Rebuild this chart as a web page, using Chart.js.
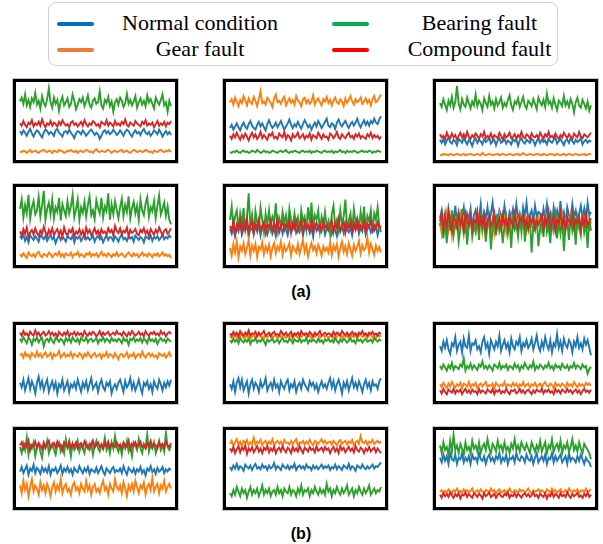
<!DOCTYPE html>
<html>
<head>
<meta charset="utf-8">
<script src="https://cdn.jsdelivr.net/npm/chart.js@4.4.1/dist/chart.umd.min.js"></script>
<style>
    html, body { margin: 0; padding: 0; background: #fff; }
    #page { position: relative; width: 603px; height: 544px; overflow: hidden; }
    .legend { position: absolute; left: 48px; top: 2px; width: 510px; height: 64px; border: 1px solid #d0d0d0; border-radius: 8px; box-sizing: border-box; font-family: "Liberation Serif", "DejaVu Serif", "Times New Roman", serif; font-size: 22px; color: #000; }
    .handle { position: absolute; height: 4px; border-radius: 2px; }
    .lbl { position: absolute; text-align: center; white-space: nowrap; }
    .panel { position: absolute; border: 3px solid #000; box-sizing: border-box; box-shadow: 0 0 0 1px #c8c8c8; background: #fff; }
    .panel canvas { display: block; }
    .cap { position: absolute; width: 60px; text-align: center; font-family: "Liberation Sans", Arial, sans-serif; font-weight: bold; font-size: 16px; color: #000; }
</style>
</head>
<body>
<div id="page"></div>
<script>
// series names (legend order) and colours
const seriesNames = ['Normal condition', 'Gear fault', 'Bearing fault', 'Compound fault'];
const legendColors = ['#0070C0', '#ED7D31', '#00B050', '#FF0000'];
const lineColors = ['#1f77b4', '#ff7f0e', '#2ca02c', '#d62728'];
const captions = ['(a)', '(b)'];

// ---- (a) row 1 ----
const a1Normal = [37,33,38,35,31,36,40,34,30,35, 38,36,32,29,35,39,37,33,36,34, 31,38,40,35,33,30,36,37,34,39, 35,32,28,34,37,36,33,38,35,31, 34,37,39,36,32,35,33,27,31,36, 38,34,37,33,35,39,36,32,34,38, 35,31,36,39,37,33,30,35,38,34, 36,32,37,40,35,33,36,31,34,38, 36,33,39,35,30,34,37,33,36,32];
const a1Gear = [11,10,12,11,9,11,13,10,11,12, 10,9,11,12,13,11,10,12,11,9, 12,11,10,13,12,11,9,10,12,11, 13,11,10,12,9,11,12,10,11,13, 12,10,11,9,12,14,11,10,12,11, 10,12,13,11,9,11,12,10,11,12, 13,10,11,12,10,9,11,13,12,10, 11,12,10,11,13,12,10,11,9,12, 11,10,12,13,11,10,12,11,13,10];
const a1Bearing = [75,80,72,84,70,77,68,79,74,86, 71,76,66,82,73,69,78,92,74,67, 80,72,77,63,75,81,70,74,79,68, 72,84,76,65,71,78,74,80,69,75, 83,71,67,76,79,72,74,88,70,66, 77,73,81,69,75,62,74,78,71,80, 76,68,73,85,72,77,70,75,82,67, 74,79,71,76,69,83,74,78,72,66, 80,75,71,77,84,70,74,62,76,69];
const a1Compound = [47,44,50,45,42,48,46,51,43,47, 45,49,44,52,46,42,47,45,50,44, 48,46,43,49,45,51,47,44,46,42, 48,50,45,47,43,46,49,44,51,46, 43,47,45,50,48,44,46,42,49,47, 45,51,44,48,46,43,50,45,47,44, 49,46,52,45,43,48,46,44,50,47, 45,43,49,46,51,44,47,45,48,42, 46,50,44,47,45,49,43,48,46,50];

const a2Normal = [41,45,39,43,47,42,38,44,48,43, 40,46,50,44,41,39,45,49,43,47, 42,38,46,51,45,41,44,48,42,46, 50,44,39,43,47,52,45,41,46,43, 49,44,40,46,51,47,42,45,39,44, 48,43,50,46,41,45,49,53,44,42, 47,45,40,48,52,46,43,47,50,45, 41,46,49,44,48,53,46,42,47,51, 45,49,44,50,47,53,48,46,52,56];
const a2Gear = [74,78,71,80,75,69,77,73,82,76, 70,79,74,72,81,76,69,78,88,73, 75,71,80,77,73,68,79,84,74,76, 72,78,81,70,75,79,73,77,71,82, 76,74,69,78,80,73,77,72,75,83, 71,76,79,74,70,78,75,81,73,77, 70,76,80,74,72,78,75,69,79,73, 77,82,75,71,78,74,76,80,72,75, 79,73,77,70,78,82,74,76,80,84];
const a2Bearing = [10,9,11,10,12,10,9,11,12,10, 11,9,10,12,11,10,13,11,9,10, 12,10,11,9,10,12,11,10,9,11, 12,10,11,13,10,9,11,10,12,11, 10,9,11,12,10,11,10,12,9,11, 10,12,11,10,9,11,12,10,11,10, 12,9,11,10,11,13,10,11,9,12, 10,11,10,12,11,9,10,11,12,10, 11,10,12,11,9,11,10,12,11,10];
const a2Compound = [31,27,33,29,35,30,26,32,28,34, 30,25,31,35,29,33,27,30,36,28, 32,29,26,33,31,35,28,30,27,34, 31,29,36,27,32,30,25,33,29,31, 35,28,30,33,27,31,29,34,26,32, 30,28,35,31,27,33,29,30,26,34, 32,28,31,36,29,27,33,30,28,32, 35,29,31,27,33,30,34,28,31,29, 27,33,30,35,28,32,29,31,27,30];

const a3Normal = [26,22,27,20,25,29,23,21,26,24, 19,27,25,22,28,24,20,26,23,18, 25,28,22,26,24,20,27,23,25,29, 21,24,26,19,25,28,22,24,27,21, 25,23,20,27,24,26,18,25,28,23, 21,26,24,22,27,25,19,24,28,22, 26,23,25,20,27,24,22,26,29,21, 24,27,23,19,25,26,22,28,24,21, 26,23,25,28,20,24,26,22,25,23];
const a3Gear = [7,6,8,7,7,6,8,7,6,7, 8,7,6,7,8,6,7,7,8,7, 6,7,8,7,6,9,7,6,7,8, 7,6,7,7,8,6,7,8,7,6, 7,8,7,6,7,7,8,6,7,9, 7,6,7,8,7,6,7,8,7,7, 6,8,7,6,7,8,7,7,6,8, 7,6,7,8,6,7,8,7,6,7, 8,7,6,7,7,8,6,7,8,7];
const a3Bearing = [73,68,78,71,64,76,70,81,67,74, 95,72,65,78,71,68,80,73,66,75, 70,84,69,76,72,64,79,73,68,82, 71,75,66,78,70,74,80,67,73,69, 77,83,70,64,75,72,79,68,74,81, 70,66,76,73,69,78,72,65,80,74, 70,77,68,85,72,75,67,79,71,64, 76,73,69,82,70,75,68,78,72,61, 74,80,70,67,77,72,66,75,63,70];
const a3Compound = [33,29,31,27,35,30,28,34,29,32, 26,31,35,29,33,28,36,30,27,32, 29,34,31,27,33,30,36,28,31,29, 34,27,32,30,28,35,31,26,33,29, 31,35,28,30,33,27,32,29,36,30, 28,33,31,27,34,30,29,32,28,35, 31,27,33,30,36,29,31,28,34,30, 27,32,29,35,31,28,33,30,27,34, 31,29,36,30,28,33,31,29,32,35];

// ---- (a) row 2 ----
const a4Normal = [37,34,39,31,36,29,38,35,32,37, 34,30,38,36,33,37,31,35,39,33, 36,28,34,38,32,36,34,30,37,35, 33,38,29,36,34,37,31,35,39,33, 36,32,34,38,30,35,37,33,36,29, 34,38,32,36,35,31,37,34,30,36, 39,33,35,31,37,34,36,30,38,35, 32,36,34,29,37,35,33,38,31,36, 34,37,32,35,39,33,36,34,38,35];
const a4Gear = [14,11,15,12,9,16,13,11,14,10, 15,17,12,10,14,13,11,16,14,10, 13,15,12,17,11,14,10,15,13,12, 16,10,14,13,17,11,14,12,10,15, 13,16,11,14,12,15,10,13,17,12, 14,11,15,13,10,14,12,16,11,13, 15,12,10,14,16,13,11,15,12,14, 10,13,16,12,14,11,15,13,10,14, 12,15,11,13,16,12,14,11,13,9];
const a4Bearing = [72,84,61,77,66,90,59,74,82,65, 70,87,62,76,95,58,72,80,65,84, 60,74,68,86,57,78,70,63,82,66, 75,90,61,71,84,58,74,67,81,62, 77,88,64,70,59,83,73,66,86,61, 75,69,92,58,78,65,82,71,60,74, 85,63,77,68,88,60,73,81,66,76, 58,84,70,64,79,87,62,74,69,82, 60,76,89,65,72,80,63,75,58,52];
const a4Compound = [43,38,46,40,48,36,42,45,39,47, 41,37,44,40,49,42,37,45,40,47, 38,43,46,39,44,36,48,41,38,45, 42,47,37,43,40,46,39,44,36,48, 41,45,38,42,47,40,44,37,46,41, 43,39,47,42,45,38,50,44,41,47, 39,44,42,48,37,45,41,43,46,40, 38,45,42,47,40,44,37,46,42,39, 45,41,48,43,38,44,46,40,43,47];

const a5Normal = [46,40,51,37,48,43,54,39,47,44, 52,36,49,45,41,51,43,55,38,48, 44,50,39,46,53,41,47,37,52,44, 49,40,51,45,38,50,43,47,54,41, 46,42,52,38,48,45,50,41,47,36, 52,44,49,42,46,51,39,47,44,53, 40,48,45,37,51,43,49,41,54,46, 42,48,38,50,45,52,40,47,43,55, 39,46,50,42,48,44,51,38,47,49];
const a5Gear = [22,12,27,16,30,10,24,18,28,14, 22,32,12,25,18,27,10,23,20,29, 14,24,17,26,11,22,28,15,24,19, 30,13,25,18,22,28,12,24,20,16, 27,14,23,32,17,25,11,21,28,19, 24,15,26,20,12,24,18,22,16,29, 13,25,19,27,11,22,30,17,24,14, 28,20,12,26,18,23,31,15,25,19, 22,35,16,27,20,13,25,18,23,16];
const a5Bearing = [58,75,48,63,70,44,66,52,73,46, 60,92,50,64,40,69,55,47,74,58, 42,66,52,70,48,62,56,79,45,60, 50,68,54,64,44,72,58,48,66,52, 61,42,70,56,62,46,74,54,80,50, 64,58,70,44,62,52,68,48,56,40, 65,76,50,58,45,70,53,62,84,49, 57,66,43,72,55,60,47,68,52,75, 46,63,56,70,41,66,58,74,50,42];
const a5Compound = [50,44,56,40,52,47,58,42,54,46, 60,43,51,56,40,53,47,58,44,50, 55,41,52,48,57,43,54,46,59,42, 50,55,45,52,48,58,41,53,47,56, 44,51,57,42,55,48,52,45,58,43, 50,54,46,52,44,56,48,51,45,50, 57,42,53,47,59,44,50,55,41,52, 48,56,43,54,46,58,45,51,47,56, 42,53,49,57,44,51,46,55,48,50];

const a6Normal = [60,70,52,66,48,72,58,64,50,76, 56,68,54,62,74,50,66,58,72,46, 64,70,56,60,78,52,68,60,74,54, 66,80,58,62,50,70,64,56,76,60, 52,68,62,72,56,78,60,66,54,74, 62,80,58,64,70,56,76,62,68,66, 54,72,60,78,58,66,50,74,62,70, 56,82,60,68,52,74,64,58,78,62, 70,54,66,76,60,72,56,80,64,68];
const a6Gear = [54,40,60,48,66,44,56,38,62,50, 58,42,64,52,46,60,40,56,62,48, 54,44,66,50,58,42,60,52,48,62, 44,58,40,56,50,64,46,54,60,42, 56,48,62,50,46,58,42,64,52,48, 60,44,56,62,50,46,58,52,60,48, 42,56,64,46,52,38,60,50,66,44, 54,48,62,40,58,52,46,64,50,56, 42,60,48,54,62,44,58,50,46,56];
const a6Bearing = [50,62,34,56,28,66,44,70,38,52, 60,30,46,72,40,58,26,54,64,36, 50,42,60,32,68,46,56,30,52,62, 20,48,58,38,66,44,54,28,50,62, 40,56,22,64,46,52,36,60,42,68, 30,54,48,58,16,50,44,62,24,46, 58,36,66,42,52,28,60,46,70,34, 54,40,62,18,50,58,32,64,44,56, 26,60,48,38,66,42,54,22,58,44];
const a6Compound = [56,66,46,60,50,68,54,44,62,58, 48,64,52,60,42,66,56,50,62,46, 58,54,68,48,60,52,64,44,58,62, 50,56,66,46,54,60,48,64,52,58, 46,62,56,50,66,54,48,60,56,64, 50,58,46,62,54,60,48,56,52,58, 64,46,60,52,68,48,56,62,44,58, 54,66,50,60,46,62,56,52,64,48, 58,54,62,46,60,52,66,50,56,60];

// ---- (b) row 1 ----
const b1Normal = [24,18,28,14,22,30,16,26,20,10, 24,32,18,26,14,22,28,12,20,26, 16,24,10,22,18,28,14,20,26,12, 22,18,24,16,28,20,12,24,18,26, 14,22,30,16,20,24,12,22,28,18, 14,24,20,26,10,18,22,16,24,28, 20,12,26,18,22,30,16,24,14,20, 28,18,10,24,20,26,16,22,12,26, 20,16,28,22,14,24,18,26,20,28];
const b1Gear = [60,62,57,64,59,61,56,63,60,58, 65,59,62,57,61,64,58,60,63,56, 62,59,61,66,57,60,63,58,61,59, 64,57,62,60,58,63,61,56,62,59, 64,60,57,61,63,58,60,62,56,61, 59,64,58,62,60,57,63,59,55,61, 62,58,60,64,57,61,59,63,56,60, 62,58,65,60,57,61,63,59,62,58, 60,56,63,61,59,62,57,60,64,58];
const b1Bearing = [82,78,84,80,76,83,81,74,82,79, 84,77,81,83,72,80,82,78,84,79, 76,83,81,78,82,80,75,83,79,82, 77,84,80,78,82,76,83,80,79,84, 77,81,82,78,80,83,76,81,79,84, 78,82,80,77,83,79,81,78,82,80, 76,83,79,81,74,82,80,84,78,81, 79,83,77,82,80,76,84,79,81,78, 82,75,80,83,79,81,77,82,80,78];
const b1Compound = [90,86,92,87,89,85,91,88,86,93, 87,90,85,89,91,86,88,92,87,90, 86,89,84,91,88,86,90,87,92,85, 89,88,91,86,90,87,89,85,92,88, 86,90,87,91,89,85,88,92,86,90, 87,89,91,86,88,90,87,92,88,89, 86,91,88,85,90,87,92,89,86,88, 91,87,89,85,92,88,86,90,88,91, 87,89,86,92,88,90,85,89,91,88];

const b2Normal = [22,16,26,12,24,30,18,28,14,20, 26,10,22,28,16,24,20,12,26,18, 22,30,14,20,24,16,28,18,22,12, 26,20,16,24,28,14,22,18,26,12, 20,24,16,28,22,18,14,26,20,24, 16,22,12,20,26,18,22,16,24,30, 18,26,14,22,28,20,10,24,18,26, 14,22,30,18,24,16,26,20,12,22, 28,18,24,14,26,20,22,16,26,30];
const b2Gear = [86,83,88,84,87,82,85,89,83,86, 84,88,82,85,87,83,86,89,84,85, 82,87,84,86,88,83,85,87,82,86, 84,88,85,83,87,84,86,82,88,85, 83,86,84,87,89,83,85,86,82,87, 84,86,88,83,85,87,84,86,83,85, 88,82,86,84,89,85,83,87,84,86, 82,88,85,84,87,83,86,89,84,85, 87,83,86,88,84,85,82,87,85,86];
const b2Bearing = [80,77,82,78,81,76,83,79,77,81, 78,82,75,80,79,83,77,80,78,82, 79,74,81,78,80,82,77,79,81,76, 80,83,78,79,77,82,80,76,81,79, 78,82,77,80,79,83,76,80,78,81, 79,77,82,78,80,76,81,79,82,78, 80,77,83,79,76,81,78,82,80,77, 79,83,78,80,76,82,79,81,77,80, 82,78,79,81,77,83,80,78,81,79];
const b2Compound = [89,86,91,87,90,85,92,88,86,90, 87,93,86,89,88,91,85,90,87,89, 92,86,88,90,85,89,91,87,88,86, 92,89,87,90,86,88,91,85,89,87, 90,86,92,88,87,89,86,91,88,85, 90,87,89,92,86,88,90,87,89,88, 85,91,87,90,88,86,92,89,87,90, 86,88,91,87,89,85,90,88,92,87, 89,86,90,88,91,87,89,86,90,88];

const b3Normal = [72,66,78,70,80,68,62,76,72,84, 66,74,78,64,82,72,70,86,66,76, 74,80,68,72,64,78,84,70,76,62, 80,74,68,78,72,86,66,74,80,70, 76,64,82,72,68,78,74,84,66,76, 72,80,70,74,82,68,76,86,72,66, 78,70,84,74,68,80,64,76,72,88, 70,78,66,82,74,70,80,76,64,78, 72,84,70,76,68,82,74,80,70,60];
const b3Gear = [22,18,24,20,17,23,19,25,21,18, 22,20,24,17,23,21,19,25,18,22, 20,24,17,21,23,19,22,25,18,21, 20,23,17,24,21,19,22,20,25,18, 22,21,19,24,20,23,18,22,20,25, 19,21,23,18,22,20,24,19,21,23, 18,22,25,20,19,23,21,17,24,20, 22,19,23,21,18,24,20,22,19,25, 21,18,23,20,22,19,24,21,23,20];
const b3Bearing = [46,42,48,44,40,47,43,50,41,46, 44,42,48,45,56,40,46,43,49,42, 47,44,41,48,45,52,43,46,42,47, 44,40,48,46,43,50,42,46,44,48, 41,46,45,42,49,44,47,40,46,43, 50,45,42,47,44,52,41,46,43,48, 45,42,47,44,50,43,46,41,48,44, 46,42,49,45,43,47,41,46,44,50, 43,47,45,42,48,44,46,36,42,45];
const b3Compound = [14,10,16,12,9,15,13,11,16,10, 14,12,15,9,13,16,11,14,10,15, 12,13,9,16,11,14,12,10,15,13, 11,16,9,14,12,15,10,13,11,16, 12,9,14,13,15,10,12,16,11,14, 10,13,15,12,9,14,11,15,13,12, 16,10,14,12,15,11,13,9,16,12, 14,10,15,13,11,16,12,14,10,13, 15,11,14,9,13,16,12,14,11,15];

// ---- (b) row 2 ----
const b4Normal = [46,52,44,49,54,42,50,47,55,44, 51,48,43,52,46,50,45,53,42,49, 47,51,44,48,54,43,50,46,52,45, 49,42,51,47,45,53,48,44,50,46, 52,43,49,47,45,51,44,48,53,46, 42,50,47,44,49,52,45,48,46,50, 44,53,47,42,51,48,45,50,43,49, 46,52,44,48,41,50,47,53,45,49, 43,51,46,48,52,44,49,46,50,48];
const b4Gear = [28,18,34,22,30,14,26,36,20,28, 24,16,32,22,28,18,30,24,14,26, 32,20,28,22,36,18,26,30,20,24, 16,28,32,22,26,18,30,24,20,34, 22,28,16,26,30,20,24,18,28,34, 22,26,16,30,24,20,36,26,22,28, 18,32,24,14,28,22,30,20,34,26, 18,28,24,32,16,26,30,22,38,20, 26,30,18,28,24,34,20,26,30,24];
const b4Bearing = [78,70,82,74,90,68,80,76,84,66, 78,82,72,64,80,76,86,70,78,82, 74,68,80,84,72,78,70,88,76,80, 66,82,74,78,86,72,80,76,70,84, 78,74,82,68,80,86,76,72,82,78, 90,74,80,70,84,76,92,78,72,80, 68,82,76,86,72,78,66,84,80,74, 88,76,70,82,78,94,72,80,76,84, 70,78,86,74,80,72,96,78,74,80];
const b4Compound = [80,84,76,82,78,86,74,81,79,85, 77,83,80,75,84,78,82,86,76,80, 83,77,85,79,81,74,84,80,78,86, 77,82,79,84,76,81,83,78,85,80, 76,82,79,86,77,81,84,78,80,75, 83,79,85,77,82,80,78,84,79,81, 76,84,80,78,86,75,82,79,84,77, 81,85,78,80,76,83,79,86,78,82, 80,76,84,79,82,77,85,80,78,83];

const b5Normal = [52,48,54,50,56,49,53,51,47,55, 52,50,54,48,53,56,50,52,49,55, 51,53,48,54,50,52,57,49,53,51, 48,55,52,50,54,49,53,51,56,48, 52,54,50,53,49,55,51,52,48,54, 50,53,49,52,55,50,53,51,54,48, 52,50,55,49,53,51,48,54,52,50, 56,49,53,51,47,54,52,50,55,51, 49,53,50,52,55,50,53,52,55,58];
const b5Gear = [82,86,80,84,88,81,85,79,86,83, 87,80,84,82,90,81,85,83,87,80, 84,86,81,85,82,88,80,84,86,82, 85,80,87,83,84,81,86,82,85,88, 80,84,83,86,81,85,82,87,83,80, 86,84,82,85,88,83,86,82,84,85, 81,86,83,80,85,87,82,84,86,81, 85,83,87,80,84,86,82,92,84,83, 86,81,85,83,87,82,84,86,83,85];
const b5Bearing = [18,14,22,16,26,20,14,24,18,22, 12,20,26,16,22,18,24,14,20,28, 16,22,18,24,14,20,22,16,26,18, 22,14,24,20,18,26,16,22,20,14, 24,18,28,16,22,20,24,14,22,18, 26,20,16,24,18,22,16,30,20,24, 14,22,18,26,20,16,24,18,22,28, 16,20,24,14,22,18,26,20,16,24, 18,22,28,16,20,24,18,22,20,26];
const b5Compound = [76,72,78,70,75,79,71,77,74,80, 69,76,73,78,71,75,79,72,76,70, 77,74,79,71,76,73,78,70,75,77, 72,79,74,71,77,75,70,78,73,76, 72,79,74,70,77,75,72,78,74,76, 71,79,73,75,77,72,78,74,76,70, 75,78,72,76,70,79,74,77,71,75, 78,73,76,71,79,74,72,77,75,70, 76,73,78,72,75,77,71,76,73,70];

const b6Normal = [64,58,68,60,66,56,70,62,60,68, 56,64,62,70,58,64,60,66,56,68, 62,64,58,70,62,60,66,56,64,68, 60,64,58,66,62,70,58,64,60,68, 56,64,62,66,58,70,62,60,66,64, 58,68,62,60,66,56,64,70,58,62, 66,60,68,56,64,62,70,58,66,60, 64,68,58,62,66,56,70,60,64,62, 58,66,60,68,62,56,64,60,58,52];
const b6Gear = [20,22,18,21,19,23,20,17,22,20, 24,19,21,18,23,20,22,19,21,24, 18,20,22,19,23,20,18,22,21,19, 24,20,22,18,21,23,19,20,22,18, 21,24,20,19,22,21,18,23,20,22, 19,21,24,20,18,22,20,21,23,19, 22,20,18,23,21,19,24,20,22,18, 21,23,19,20,22,18,24,21,19,22, 20,23,18,21,22,19,24,20,21,23];
const b6Bearing = [80,70,84,74,78,68,86,72,94,74, 80,70,82,76,68,84,74,78,70,86, 76,80,72,84,70,78,82,74,88,76, 70,82,78,72,86,76,80,72,84,74, 78,70,82,76,88,74,80,72,84,78, 74,82,76,70,84,78,72,80,74,86, 72,78,84,70,80,76,88,72,78,82, 74,86,70,80,76,84,72,78,88,74, 80,72,84,76,70,82,78,74,70,62];
const b6Compound = [16,12,18,14,17,13,19,15,12,17, 14,18,11,16,15,19,13,17,14,12, 18,16,13,17,15,11,18,14,16,19, 13,15,17,12,16,18,14,13,17,15, 19,12,16,14,18,13,17,15,12,16, 18,14,17,13,15,19,14,16,12,17, 15,13,18,11,16,14,19,13,17,15, 12,18,14,16,13,19,15,12,17,14, 16,18,13,15,12,17,14,19,13,16];

// each panel: [normal, gear, bearing, compound]
const panels = [
    [a1Normal, a1Gear, a1Bearing, a1Compound],
    [a2Normal, a2Gear, a2Bearing, a2Compound],
    [a3Normal, a3Gear, a3Bearing, a3Compound],
    [a4Normal, a4Gear, a4Bearing, a4Compound],
    [a5Normal, a5Gear, a5Bearing, a5Compound],
    [a6Normal, a6Gear, a6Bearing, a6Compound],
    [b1Normal, b1Gear, b1Bearing, b1Compound],
    [b2Normal, b2Gear, b2Bearing, b2Compound],
    [b3Normal, b3Gear, b3Bearing, b3Compound],
    [b4Normal, b4Gear, b4Bearing, b4Compound],
    [b5Normal, b5Gear, b5Bearing, b5Compound],
    [b6Normal, b6Gear, b6Bearing, b6Compound]
];

// layout (px)
const colX = [13, 223, 433];
const rowY = [79, 184, 322, 427];
const rowH = [84, 84, 82, 83];
const panelW = 165;

const page = document.getElementById('page');

// legend (column-major, like the original)
const legendSlots = [
    { handle: 56, text: 118, textW: 162, y: 8 },
    { handle: 56, text: 118, textW: 162, y: 34 },
    { handle: 331, text: 400, textW: 157, y: 8 },
    { handle: 331, text: 400, textW: 157, y: 34 }
];
page.insertAdjacentHTML('beforeend', `
    <div class="legend">
        ${seriesNames.map((name, i) => {
            const s = legendSlots[i];
            return `
            <div class="handle" style="left:${s.handle - 48}px; top:${s.y + 11}px; width:37px; background:${legendColors[i]}"></div>
            <div class="lbl" style="left:${s.text - 48}px; top:${s.y - 1}px; width:${s.textW}px; line-height:26px">${name}</div>`;
        }).join('')}
    </div>
    <div class="cap" style="left:271px; top:283px">${captions[0]}</div>
    <div class="cap" style="left:271px; top:525px">${captions[1]}</div>
`);

panels.forEach((series, p) => {
    const row = Math.floor(p / 3);
    const col = p % 3;
    const h = rowH[row];

    const box = document.createElement('div');
    box.className = 'panel';
    box.style.left = colX[col] + 'px';
    box.style.top = rowY[row] + 'px';
    box.style.width = panelW + 'px';
    box.style.height = h + 'px';
    const wrap = document.createElement('div');
    wrap.style.position = 'relative';
    wrap.style.width = (panelW - 6) + 'px';
    wrap.style.height = (h - 6) + 'px';
    const canvas = document.createElement('canvas');
    wrap.appendChild(canvas);
    box.appendChild(wrap);
    page.appendChild(box);

    const n = Math.max(...series.map(s => s.length));

    new Chart(canvas, {
        type: 'line',
        data: {
            labels: Array.from({ length: n }, (_, i) => i),
            datasets: series.map((values, i) => ({
                label: seriesNames[i],
                data: values,
                borderColor: lineColors[i],
                borderWidth: 1.9,
                pointRadius: 0,
                tension: 0,
                fill: false,
                order: 4 - i // compound drawn on top
            }))
        },
        options: {
            responsive: true,
            maintainAspectRatio: false,
            animation: false,
            events: [],
            layout: { padding: { left: 4, right: 4, top: 0, bottom: 0 } },
            plugins: { legend: { display: false }, tooltip: { enabled: false } },
            scales: {
                x: { display: false, offset: false },
                y: { display: false, min: 0, max: 100 }
            }
        }
    });
});
</script>
</body>
</html>
